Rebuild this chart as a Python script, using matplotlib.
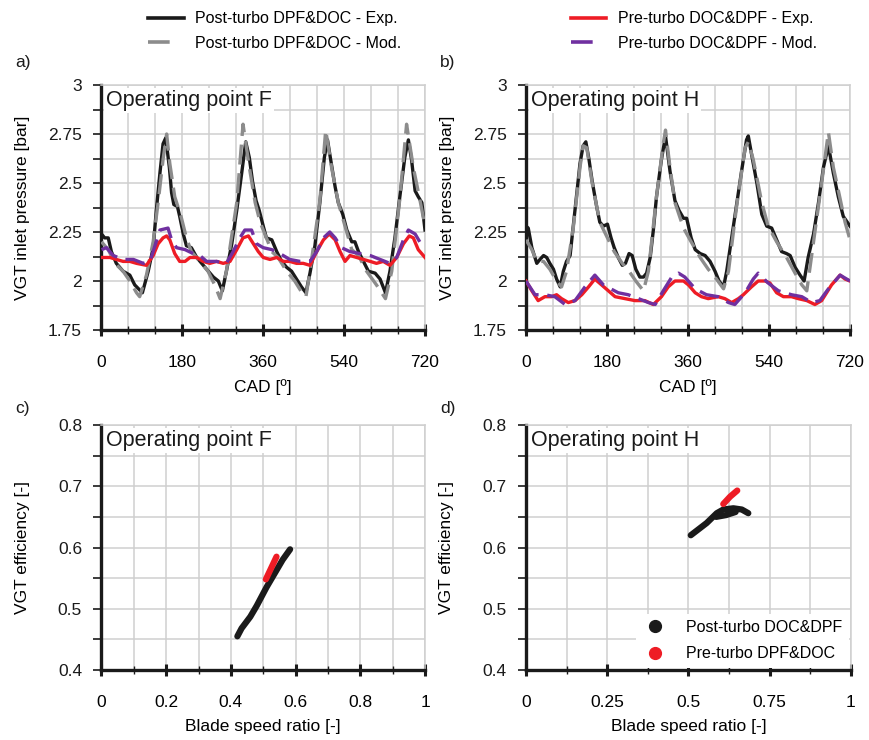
import matplotlib
matplotlib.use("Agg")
import matplotlib.pyplot as plt
from matplotlib.lines import Line2D
from matplotlib.ticker import MultipleLocator, FuncFormatter

plt.rcParams['font.family'] = ['Liberation Sans', 'DejaVu Sans']

# Operating point F - VGT inlet pressure vs CAD
f_post_exp_cad = [0, 7, 15, 22, 33, 48, 63, 74, 91, 104, 115, 122, 130, 137, 143, 151, 156, 161, 169, 174,
                  182, 189, 200, 212, 223, 234, 249, 260, 269, 278, 290, 301, 312, 321, 329, 336, 344, 351,
                  360, 367, 379, 390, 401, 412, 423, 434, 445, 455, 464, 475, 486, 496, 503, 510, 520, 527,
                  537, 546, 557, 564, 572, 583, 594, 609, 620, 632, 642, 653, 664, 675, 683, 690, 698, 705,
                  713, 720]
f_post_exp = [2.24, 2.22, 2.22, 2.15, 2.09, 2.05, 2.03, 1.98, 1.94, 2.05, 2.17, 2.36, 2.55, 2.70, 2.73, 2.58,
              2.45, 2.39, 2.38, 2.33, 2.24, 2.18, 2.17, 2.12, 2.09, 2.06, 2.02, 2.00, 1.95, 2.05, 2.19, 2.36,
              2.55, 2.71, 2.63, 2.51, 2.41, 2.36, 2.28, 2.22, 2.21, 2.15, 2.10, 2.07, 2.05, 2.01, 1.97, 1.94,
              2.04, 2.18, 2.40, 2.63, 2.72, 2.62, 2.48, 2.40, 2.34, 2.26, 2.20, 2.20, 2.15, 2.10, 2.05, 2.04,
              2.01, 1.94, 2.05, 2.22, 2.43, 2.63, 2.72, 2.62, 2.46, 2.43, 2.40, 2.26]

f_post_mod_cad = [0, 15, 30, 48, 63, 78, 85, 100, 115, 126, 137, 145, 152, 163, 177, 189, 200, 219, 237, 252,
                  264, 278, 301, 315, 329, 342, 353, 367, 379, 393, 412, 430, 449, 455, 464, 486, 499, 512,
                  527, 542, 557, 572, 590, 612, 632, 646, 664, 679, 694, 709, 720]
f_post_mod = [2.20, 2.16, 2.09, 2.05, 2.00, 1.94, 1.92, 2.03, 2.20, 2.40, 2.62, 2.75, 2.60, 2.43, 2.33, 2.22,
              2.15, 2.10, 2.05, 1.98, 1.91, 2.05, 2.40, 2.80, 2.58, 2.40, 2.30, 2.22, 2.15, 2.12, 2.05, 2.00,
              1.93, 1.92, 2.05, 2.41, 2.77, 2.58, 2.40, 2.28, 2.16, 2.13, 2.05, 1.98, 1.91, 2.05, 2.42, 2.80,
              2.58, 2.41, 2.28]

f_pre_exp_cad = [0, 19, 33, 48, 63, 78, 100, 115, 126, 137, 145, 152, 163, 174, 186, 197, 212, 226, 241, 256,
                 271, 286, 301, 315, 327, 338, 349, 360, 375, 390, 405, 419, 434, 449, 464, 479, 494, 507,
                 520, 531, 542, 553, 568, 583, 598, 612, 627, 642, 657, 672, 685, 694, 705, 720]
f_pre_exp = [2.12, 2.12, 2.11, 2.10, 2.10, 2.09, 2.08, 2.13, 2.19, 2.22, 2.23, 2.21, 2.14, 2.10, 2.10, 2.12,
             2.12, 2.10, 2.09, 2.10, 2.09, 2.10, 2.16, 2.22, 2.23, 2.19, 2.15, 2.12, 2.11, 2.12, 2.10, 2.10,
             2.09, 2.09, 2.08, 2.15, 2.21, 2.24, 2.21, 2.15, 2.10, 2.13, 2.12, 2.11, 2.10, 2.09, 2.10, 2.08,
             2.12, 2.19, 2.23, 2.22, 2.16, 2.12]

f_pre_mod_cad = [0, 11, 26, 48, 71, 93, 108, 119, 130, 148, 156, 167, 186, 204, 219, 234, 256, 278, 293, 308,
                 319, 334, 345, 360, 379, 397, 419, 442, 464, 479, 494, 508, 520, 534, 553, 575, 598, 620,
                 642, 657, 672, 683, 698, 716]
f_pre_mod = [2.16, 2.17, 2.13, 2.11, 2.11, 2.09, 2.10, 2.18, 2.26, 2.27, 2.21, 2.17, 2.16, 2.14, 2.13, 2.10,
             2.10, 2.09, 2.15, 2.22, 2.26, 2.26, 2.19, 2.17, 2.16, 2.14, 2.11, 2.10, 2.10, 2.15, 2.22, 2.25,
             2.22, 2.17, 2.15, 2.14, 2.13, 2.11, 2.09, 2.12, 2.21, 2.26, 2.24, 2.17]

# Operating point H - VGT inlet pressure vs CAD
h_post_exp_cad = [0, 5, 13, 24, 31, 39, 46, 53, 61, 68, 76, 83, 90, 98, 105, 113, 120, 127, 133, 140, 147,
                  157, 164, 172, 181, 189, 196, 205, 214, 221, 229, 236, 244, 253, 261, 268, 276, 283, 290,
                  301, 310, 320, 331, 340, 350, 357, 367, 376, 387, 398, 409, 420, 429, 439, 446, 457, 468,
                  479, 490, 494, 501, 513, 524, 535, 546, 557, 568, 579, 587, 598, 609, 618, 627, 639, 650,
                  661, 672, 683, 694, 705, 720]
h_post_exp = [2.28, 2.27, 2.17, 2.09, 2.11, 2.13, 2.12, 2.09, 2.06, 2.01, 1.97, 2.05, 2.10, 2.13, 2.28, 2.45,
              2.60, 2.69, 2.71, 2.62, 2.51, 2.38, 2.30, 2.28, 2.29, 2.22, 2.17, 2.12, 2.08, 2.09, 2.14, 2.13,
              2.06, 2.02, 2.02, 2.04, 2.12, 2.26, 2.43, 2.62, 2.74, 2.56, 2.41, 2.36, 2.32, 2.32, 2.22, 2.16,
              2.14, 2.13, 2.10, 2.05, 2.00, 1.97, 2.05, 2.22, 2.39, 2.56, 2.72, 2.74, 2.65, 2.50, 2.34, 2.28,
              2.27, 2.21, 2.15, 2.14, 2.13, 2.07, 2.03, 2.00, 2.12, 2.24, 2.40, 2.58, 2.69, 2.55, 2.43, 2.33,
              2.28]

h_post_mod_cad = [0, 13, 24, 39, 53, 68, 79, 90, 105, 120, 127, 135, 147, 164, 181, 196, 214, 229, 244, 261,
                  272, 290, 305, 310, 320, 331, 350, 367, 387, 405, 420, 439, 450, 468, 487, 494, 505, 524,
                  538, 557, 579, 598, 613, 624, 639, 657, 672, 683, 698, 709, 720]
h_post_mod = [2.21, 2.16, 2.10, 2.10, 2.06, 2.00, 1.97, 2.05, 2.27, 2.58, 2.69, 2.68, 2.50, 2.30, 2.22, 2.15,
              2.09, 2.05, 2.00, 1.95, 2.05, 2.43, 2.70, 2.77, 2.58, 2.40, 2.27, 2.20, 2.12, 2.06, 2.02, 1.96,
              2.05, 2.38, 2.68, 2.71, 2.62, 2.40, 2.28, 2.20, 2.12, 2.04, 1.98, 1.95, 2.20, 2.50, 2.76, 2.58,
              2.42, 2.30, 2.21]

h_pre_exp_cad = [0, 13, 27, 42, 57, 68, 79, 94, 109, 124, 139, 153, 168, 183, 198, 220, 242, 264, 283, 301,
                 316, 331, 350, 361, 376, 390, 405, 427, 442, 457, 472, 483, 501, 516, 531, 542, 557, 572,
                 590, 605, 624, 642, 657, 668, 679, 698, 709, 720]
h_pre_exp = [2.00, 1.95, 1.90, 1.92, 1.92, 1.93, 1.91, 1.89, 1.90, 1.93, 1.97, 2.01, 1.98, 1.95, 1.92, 1.91,
             1.90, 1.90, 1.88, 1.92, 1.97, 2.00, 2.00, 1.98, 1.94, 1.92, 1.91, 1.92, 1.91, 1.89, 1.91, 1.93,
             1.97, 2.00, 2.00, 1.99, 1.94, 1.92, 1.92, 1.91, 1.90, 1.88, 1.90, 1.94, 1.98, 2.03, 2.01, 2.00]

h_pre_mod_cad = [0, 20, 42, 64, 87, 109, 131, 153, 172, 205, 227, 250, 272, 287, 305, 324, 339, 353, 376, 401,
                 427, 450, 464, 487, 505, 516, 538, 561, 590, 613, 635, 653, 672, 698, 720]
h_pre_mod = [2.00, 1.93, 1.93, 1.92, 1.88, 1.90, 1.97, 2.03, 1.98, 1.94, 1.93, 1.91, 1.89, 1.88, 1.95, 2.02,
             2.04, 2.02, 1.96, 1.93, 1.92, 1.89, 1.88, 1.94, 2.01, 2.04, 1.99, 1.95, 1.93, 1.92, 1.89, 1.90,
             1.96, 2.03, 2.00]

# VGT efficiency vs blade speed ratio
f_post_bsr = [0.42, 0.433, 0.46, 0.48, 0.51, 0.54, 0.56, 0.583]
f_post_eff = [0.455, 0.468, 0.487, 0.505, 0.535, 0.562, 0.58, 0.597]
f_pre_bsr = [0.508, 0.525, 0.541]
f_pre_eff = [0.548, 0.567, 0.585]

h_post_bsr = [0.507, 0.556, 0.587, 0.607, 0.638, 0.664, 0.684]
h_post_eff = [0.620, 0.640, 0.656, 0.662, 0.664, 0.662, 0.656]
h_post_bsr2 = [0.585, 0.616, 0.645]
h_post_eff2 = [0.650, 0.653, 0.658]
h_pre_bsr = [0.607, 0.628, 0.650]
h_pre_eff = [0.671, 0.683, 0.693]

series_labels = ['Post-turbo DPF&DOC - Exp.', 'Post-turbo DPF&DOC - Mod.',
                 'Pre-turbo DOC&DPF - Exp.', 'Pre-turbo DOC&DPF - Mod.']
scatter_labels = ['Post-turbo DOC&DPF', 'Pre-turbo DPF&DOC']

c_exp_post = '#1a1a1a'
c_mod_post = '#8c8c8c'
c_exp_pre = '#ee1c25'
c_mod_pre = '#7030a0'
grid_c = '#cfcfcf'

fig = plt.figure(figsize=(8.7, 7.4), dpi=100)
W, H = 870, 740


def axes_px(l, t, r, b):
    return fig.add_axes([l / W, 1 - b / H, (r - l) / W, (b - t) / H])


ax_a = axes_px(101.5, 85, 425, 330)
ax_b = axes_px(526, 85, 850, 330)
ax_c = axes_px(101.5, 425, 425, 670)
ax_d = axes_px(526, 425, 851, 670)

fmt = FuncFormatter(lambda v, p: '%g' % round(v, 3))


def style(ax, xmaj, xmin, ymaj, ymin):
    ax.xaxis.set_major_locator(MultipleLocator(xmaj))
    ax.xaxis.set_minor_locator(MultipleLocator(xmin))
    ax.yaxis.set_major_locator(MultipleLocator(ymaj))
    ax.yaxis.set_minor_locator(MultipleLocator(ymin))
    ax.xaxis.set_major_formatter(fmt)
    ax.yaxis.set_major_formatter(fmt)
    ax.grid(True, which='both', color=grid_c, lw=1.1, zorder=0)
    ax.set_axisbelow(True)
    for s in ['top', 'right']:
        ax.spines[s].set_color(grid_c)
        ax.spines[s].set_linewidth(1.1)
    for s in ['left', 'bottom']:
        ax.spines[s].set_color('#1a1a1a')
        ax.spines[s].set_linewidth(2.4)
    ax.tick_params(axis='y', which='both', direction='out', length=6, width=1.2,
                   color='#1a1a1a', labelsize=12.5, pad=8, colors='#1a1a1a')
    ax.tick_params(axis='x', which='major', direction='inout', length=8, width=2.2,
                   color='#1a1a1a', labelsize=12.5, pad=14)
    ax.tick_params(axis='x', which='minor', direction='inout', length=6, width=1.0,
                   color='#1a1a1a')
    ax.tick_params(top=False, right=False, which='both')


def title_box(ax, txt):
    ax.text(0.015, 0.98, txt, transform=ax.transAxes, va='top', ha='left', fontsize=15.5,
            color='#1a1a1a', bbox=dict(fc='white', ec='none', pad=1.5), zorder=5)


dash_kw = dict(dashes=(6, 2.6), dash_capstyle='butt')

for ax, d, txt in [(ax_a, (f_post_exp_cad, f_post_exp, f_post_mod_cad, f_post_mod,
                            f_pre_exp_cad, f_pre_exp, f_pre_mod_cad, f_pre_mod), 'Operating point F'),
                   (ax_b, (h_post_exp_cad, h_post_exp, h_post_mod_cad, h_post_mod,
                           h_pre_exp_cad, h_pre_exp, h_pre_mod_cad, h_pre_mod), 'Operating point H')]:
    ax.plot(d[0], d[1], color=c_exp_post, lw=2.4, zorder=3)
    ax.plot(d[2], d[3], color=c_mod_post, lw=2.4, zorder=3, **dash_kw)
    ax.plot(d[4], d[5], color=c_exp_pre, lw=2.4, zorder=3)
    ax.plot(d[6], d[7], color=c_mod_pre, lw=2.4, zorder=3, **dash_kw)
    ax.set_xlim(0, 720)
    ax.set_ylim(1.75, 3)
    style(ax, 180, 60, 0.25, 0.125)
    ax.set_xlabel('CAD [º]', fontsize=12.5)
    ax.set_ylabel('VGT inlet pressure [bar]', fontsize=12.5)
    ax.xaxis.set_label_coords(0.5, -0.2)
    ax.yaxis.set_label_coords(-0.22, 0.5)
    title_box(ax, txt)

# figure legend: solid handles for measurements, a single dash for the model
leg_handles = [Line2D([], [], color=c_exp_post, lw=2.6),
               Line2D([], [], color=c_mod_post, lw=2.6, dashes=(6, 30), dash_capstyle='butt'),
               Line2D([], [], color=c_exp_pre, lw=2.6),
               Line2D([], [], color=c_mod_pre, lw=2.6, dashes=(6, 30), dash_capstyle='butt')]
fig.legend(handles=leg_handles, labels=series_labels, loc='upper left',
           bbox_to_anchor=(134 / W, 1 + 3 / H), ncol=2, frameon=False, fontsize=11.5,
           handlelength=2.2, handletextpad=0.75, columnspacing=10.6, labelspacing=0.6)

ax_c.plot(f_post_bsr, f_post_eff, color=c_exp_post, lw=4.5, solid_capstyle='round', zorder=3)
ax_c.plot(f_pre_bsr, f_pre_eff, color=c_exp_pre, lw=4.5, solid_capstyle='round', zorder=3)
ax_c.set_xlim(0, 1)
ax_c.set_ylim(0.4, 0.8)
style(ax_c, 0.2, 0.1, 0.1, 0.05)
title_box(ax_c, 'Operating point F')

ax_d.plot(h_post_bsr, h_post_eff, color=c_exp_post, lw=4.5, solid_capstyle='round', zorder=3)
ax_d.plot(h_post_bsr2, h_post_eff2, color=c_exp_post, lw=4.5, solid_capstyle='round', zorder=3)
ax_d.plot(h_pre_bsr, h_pre_eff, color=c_exp_pre, lw=4.5, solid_capstyle='round', zorder=3)
ax_d.set_xlim(0, 1)
ax_d.set_ylim(0.4, 0.8)
style(ax_d, 0.25, 0.125, 0.1, 0.05)
title_box(ax_d, 'Operating point H')

for ax in (ax_c, ax_d):
    ax.set_xlabel('Blade speed ratio [-]', fontsize=12.5)
    ax.set_ylabel('VGT efficiency [-]', fontsize=12.5)
    ax.xaxis.set_label_coords(0.5, -0.2)
    ax.yaxis.set_label_coords(-0.22, 0.5)

mk = [Line2D([], [], ls='none', marker='o', ms=8.5, color=c) for c in (c_exp_post, c_exp_pre)]
leg = ax_d.legend(handles=mk, labels=scatter_labels, loc='lower right', fontsize=11.5, frameon=True,
                  fancybox=False, borderaxespad=0.15, handletextpad=1.2, labelspacing=0.7,
                  handlelength=1.5)
leg.get_frame().set_edgecolor('none')
leg.get_frame().set_facecolor('white')
leg.get_frame().set_alpha(1)

for lbl, x, y in [('a)', 15, 62), ('b)', 440, 62), ('c)', 15, 408), ('d)', 440, 408)]:
    fig.text(x / W, 1 - y / H, lbl, fontsize=12.5, va='center', ha='left', color='#1a1a1a')

fig.savefig('out.png', dpi=100)
